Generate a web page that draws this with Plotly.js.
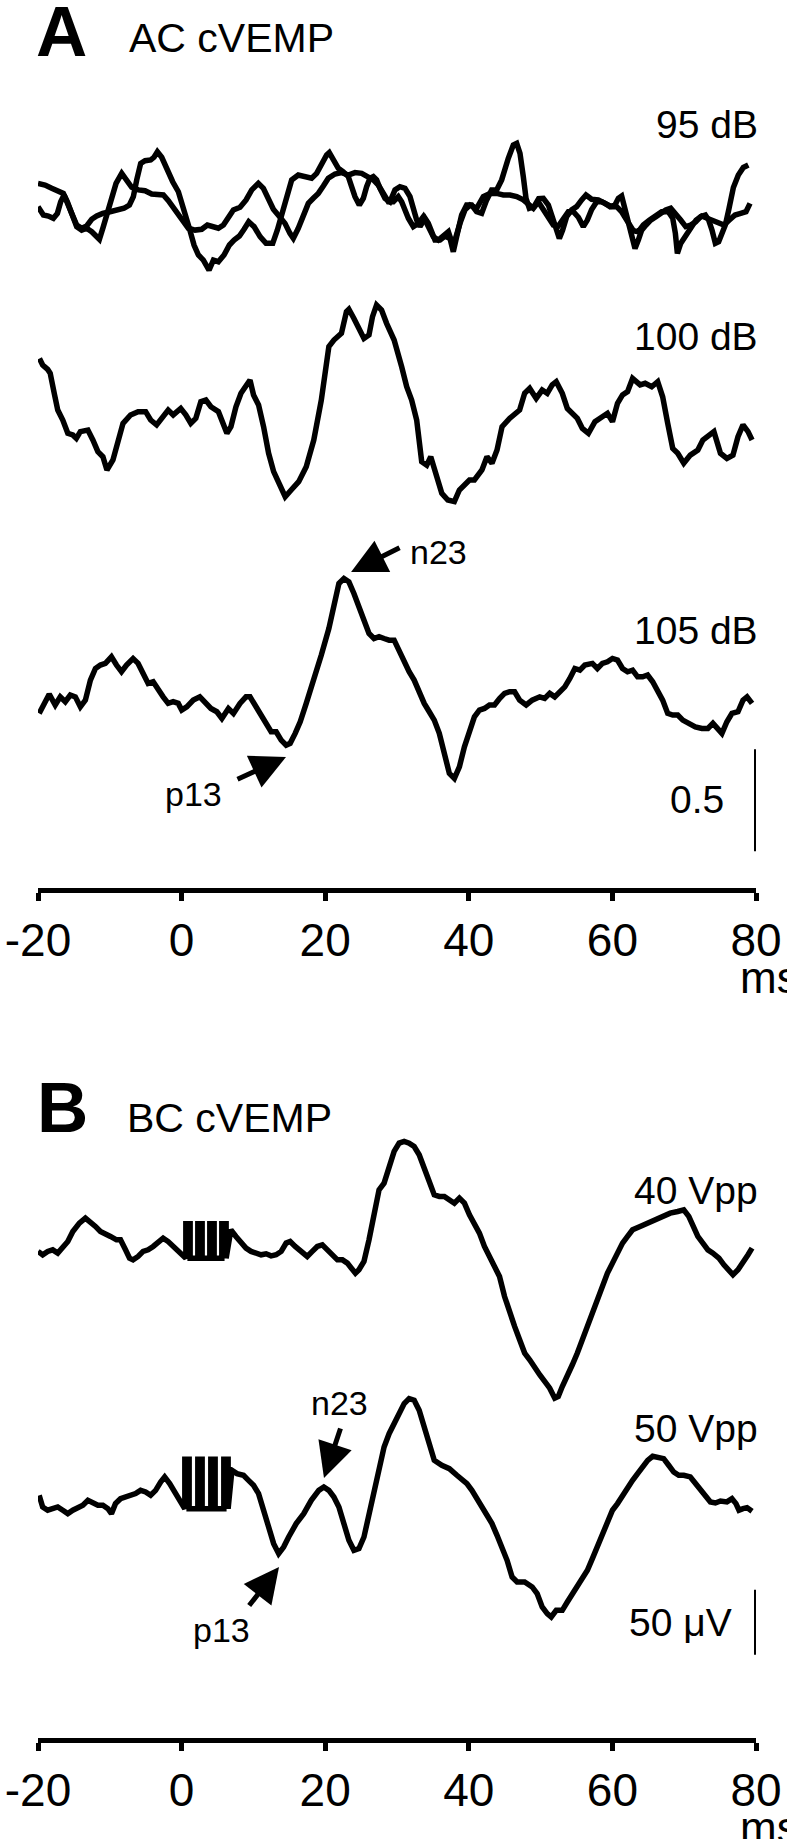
<!DOCTYPE html>
<html><head><meta charset="utf-8">
<script src="https://cdn.plot.ly/plotly-3.0.1.min.js"></script>
<style>html,body{margin:0;padding:0;background:#fff}#chart{width:787px;height:1839px}</style>
</head><body><div id="chart"></div>
<script>
// ---------- Panel A: AC cVEMP (normalised amplitude, scale bar 0.5) ----------
const xTicks = [-20, 0, 20, 40, 60, 80];
const xTickText = ['-20', '0', '20', '40', '60', '80'];

const ac95aMs = [-20.0,-19.25,-18.56,-17.86,-17.30,-16.84,-16.37,-15.91,-15.31,-14.61,-13.91,-13.22,-12.52,-11.82,-10.99,-9.97,-8.95,-8.02,-7.27,-6.72,-6.25,-5.70,-5.09,-4.30,-3.84,-3.37,-2.77,-2.07,-1.24,-0.45,0.02,0.48,1.08,1.73,2.34,3.03,3.82,4.43,5.12,5.91,6.66,7.31,8.05,8.70,9.35,10.09,10.93,11.76,12.69,13.34,13.94,14.64,15.33,16.25,17.18,18.11,18.81,19.50,20.20,20.57,21.13,21.83,22.52,23.22,23.68,24.15,24.75,25.31,25.77,26.24,26.70,27.16,27.63,28.33,29.02,29.72,30.41,31.11,31.81,32.27,32.74,33.20,33.90,34.36,34.83,35.29,35.99,36.68,37.38,37.84,38.31,39.00,39.70,40.40,41.09,41.79,42.49,43.18,43.88,44.58,45.50,46.20,46.67,47.13,47.59,47.97,48.43,49.08,49.73,50.38,51.08,51.77,52.24,52.61,53.07,53.63,54.33,55.02,55.72,56.32,57.11,58.04,58.97,59.67,60.36,60.83,61.29,61.76,62.22,62.68,63.15,63.61,64.08,64.68,65.33,66.07,66.72,67.42,68.12,68.81,69.51,70.21,70.90,71.60,72.30,72.95,73.41,73.87,74.34,74.80,75.27,75.73,76.20,76.85,77.54,78.24,78.93];
const ac95aAmp = [-0.010,-0.051,-0.056,-0.067,-0.043,0.014,0.047,0.014,-0.043,-0.100,-0.116,-0.105,-0.072,-0.056,-0.043,-0.035,-0.023,-0.018,-0.002,0.039,0.121,0.202,0.215,0.219,0.232,0.259,0.232,0.173,0.112,0.063,0.014,-0.043,-0.116,-0.198,-0.247,-0.272,-0.321,-0.272,-0.280,-0.247,-0.198,-0.174,-0.154,-0.121,-0.084,-0.108,-0.157,-0.190,-0.190,-0.124,-0.051,0.014,0.121,0.145,0.140,0.129,0.153,0.202,0.243,0.255,0.219,0.178,0.161,0.137,0.088,0.039,-0.002,0.031,0.088,0.129,0.137,0.121,0.080,0.031,0.014,0.072,0.088,0.080,0.039,-0.026,-0.076,-0.108,-0.067,-0.092,-0.141,-0.174,-0.174,-0.154,-0.166,-0.231,-0.157,-0.051,-0.002,-0.002,-0.035,-0.043,0.023,0.072,0.072,0.121,0.227,0.292,0.300,0.251,0.137,0.031,-0.018,-0.010,0.029,0.031,-0.002,-0.076,-0.141,-0.166,-0.125,-0.059,-0.026,-0.010,0.023,0.047,0.026,0.023,0.006,-0.010,-0.002,0.031,0.042,-0.023,-0.076,-0.157,-0.215,-0.174,-0.125,-0.100,-0.076,-0.059,-0.040,-0.026,-0.018,-0.043,-0.076,-0.108,-0.100,-0.084,-0.059,-0.051,-0.076,-0.125,-0.190,-0.182,-0.141,-0.100,-0.026,0.084,0.145,0.182,0.194];

const ac95bMs = [-20.0,-19.02,-18.09,-17.16,-16.47,-15.91,-15.31,-14.61,-13.91,-13.22,-12.52,-11.82,-11.45,-10.90,-10.34,-9.73,-9.13,-8.34,-7.65,-6.95,-6.02,-5.09,-4.16,-3.23,-2.54,-1.84,-0.91,0.02,0.94,1.87,2.80,3.59,4.33,5.12,5.82,6.52,7.21,8.14,8.98,9.77,10.69,11.39,12.09,12.78,13.71,14.40,15.09,15.56,16.25,16.95,17.65,18.34,19.04,19.74,20.43,21.36,22.29,23.22,24.15,25.08,26.00,26.70,27.40,28.09,28.79,29.49,30.18,30.65,31.11,31.58,32.27,32.97,33.67,34.36,35.06,35.75,36.45,37.15,37.61,38.08,38.77,39.47,40.17,41.09,42.02,42.95,43.88,44.81,45.74,46.67,47.59,48.29,48.99,49.68,50.84,51.77,52.47,53.17,53.86,54.56,55.26,55.95,56.51,57.11,57.81,58.51,59.20,59.90,60.60,61.29,61.99,62.92,63.61,64.31,65.14,65.93,66.86,67.79,68.40,68.77,69.05,69.51,70.21,70.90,71.65,72.43,73.22,74.06,74.99,75.55,76.29,77.08,77.87,78.61,79.17];
const ac95bAmp = [0.104,0.096,0.080,0.063,0.055,0.014,-0.051,-0.108,-0.125,-0.116,-0.133,-0.157,-0.170,-0.108,-0.043,0.031,0.104,0.153,0.121,0.085,0.072,0.068,0.052,0.052,0.047,0.019,-0.026,-0.079,-0.116,-0.125,-0.121,-0.100,-0.108,-0.116,-0.100,-0.062,-0.026,-0.013,0.023,0.072,0.104,0.080,0.023,-0.023,-0.062,-0.092,-0.141,-0.165,-0.116,-0.051,0.006,0.031,0.055,0.091,0.129,0.150,0.157,0.145,0.157,0.153,0.137,0.121,0.096,0.055,0.014,0.014,0.039,0.014,-0.026,-0.067,-0.108,-0.092,-0.059,-0.108,-0.157,-0.174,-0.157,-0.133,-0.182,-0.174,-0.092,-0.026,-0.002,-0.018,0.039,0.055,0.055,0.047,0.047,0.039,0.023,-0.002,-0.018,0.014,-0.046,-0.100,-0.105,-0.067,-0.035,-0.035,-0.062,-0.108,-0.076,-0.024,0.014,0.014,0.003,-0.010,-0.010,-0.035,-0.076,-0.128,-0.133,-0.100,-0.076,-0.056,-0.035,-0.035,-0.067,-0.141,-0.239,-0.190,-0.154,-0.108,-0.076,-0.056,-0.067,-0.079,-0.092,-0.100,-0.076,-0.051,-0.043,-0.035,0.006];

const ac100Ms = [-19.8,-19.35,-18.65,-18.30,-17.74,-17.25,-16.55,-15.85,-15.15,-14.66,-14.10,-13.05,-12.36,-11.66,-10.96,-10.40,-9.56,-8.86,-8.16,-7.11,-6.06,-5.01,-4.31,-3.48,-2.57,-1.87,-1.17,-0.12,0.58,1.28,1.98,2.68,3.38,4.08,5.13,5.82,6.31,6.87,7.57,8.27,8.97,9.53,10.02,10.72,11.42,12.12,12.82,13.52,14.43,15.26,16.31,17.36,18.41,19.46,20.16,20.51,21.21,22.26,22.96,23.30,24.00,24.70,25.40,26.10,26.59,27.15,27.85,28.55,29.60,30.65,31.35,32.04,32.74,33.44,34.14,34.70,35.40,36.24,37.08,37.99,38.69,39.39,40.09,40.78,41.83,42.53,43.23,43.93,44.63,45.68,46.38,47.08,47.78,48.48,49.39,50.22,50.92,51.62,52.18,53.02,53.72,54.42,55.12,55.82,56.66,57.57,58.61,59.31,60.01,60.71,61.41,62.11,62.81,63.86,64.56,65.47,66.31,67.00,67.70,68.40,69.10,69.94,70.85,71.90,72.60,73.30,74.14,75.05,75.95,76.79,77.49,78.19,78.89,79.45];
const ac100Amp = [0.266,0.234,0.212,0.193,0.095,0.013,-0.036,-0.101,-0.109,-0.126,-0.093,-0.085,-0.134,-0.191,-0.216,-0.281,-0.232,-0.150,-0.052,-0.011,0.005,0.005,-0.036,-0.060,-0.020,0.013,-0.011,0.021,-0.011,-0.052,-0.028,0.054,0.062,0.029,0.005,-0.069,-0.101,-0.069,0.029,0.095,0.131,0.160,0.087,0.038,-0.069,-0.199,-0.289,-0.346,-0.412,-0.379,-0.338,-0.265,-0.134,0.062,0.225,0.324,0.356,0.389,0.495,0.507,0.462,0.405,0.364,0.381,0.471,0.528,0.503,0.438,0.356,0.225,0.127,0.062,-0.036,-0.240,-0.257,-0.216,-0.297,-0.395,-0.428,-0.436,-0.379,-0.355,-0.330,-0.330,-0.281,-0.216,-0.248,-0.183,-0.069,-0.028,-0.003,0.013,0.095,0.119,0.070,0.111,0.095,0.136,0.152,0.095,0.021,-0.003,-0.028,-0.077,-0.101,-0.044,-0.020,-0.003,-0.044,0.046,0.087,0.103,0.168,0.136,0.144,0.127,0.152,0.078,-0.052,-0.175,-0.199,-0.248,-0.208,-0.183,-0.134,-0.118,-0.093,-0.199,-0.224,-0.208,-0.118,-0.060,-0.093,-0.134];

const ac105Ms = [-19.84,-19.14,-18.44,-17.60,-16.90,-16.20,-15.50,-14.80,-14.10,-13.40,-12.70,-12.00,-11.31,-10.61,-9.77,-9.07,-8.37,-7.67,-6.76,-6.06,-5.36,-4.66,-3.96,-3.27,-2.57,-1.87,-1.17,-0.47,0.02,0.72,1.63,2.54,3.38,4.08,4.91,5.61,6.52,7.22,8.13,8.97,9.53,10.23,11.07,11.77,12.47,13.17,13.87,14.56,15.12,15.82,16.52,17.36,18.41,19.46,20.51,21.21,21.91,22.61,23.30,24.00,24.70,25.40,26.10,26.80,27.50,28.20,28.90,29.60,30.30,31.00,31.69,32.39,33.09,33.79,34.49,35.19,35.89,36.59,37.29,37.99,38.69,39.39,40.09,40.78,41.48,42.18,42.88,43.58,44.28,44.98,45.68,46.38,47.08,47.99,48.83,49.87,50.57,51.27,51.97,52.67,53.37,54.07,54.77,55.47,56.16,57.21,57.91,58.61,59.31,60.01,60.71,61.41,62.11,62.81,63.51,64.21,64.91,65.61,66.31,67.00,67.70,68.40,69.10,69.80,70.64,71.55,72.46,73.30,74.00,74.70,75.25,75.95,76.65,77.49,78.19,78.75,79.45];
const ac105Amp = [-0.034,0.015,0.060,0.007,0.047,0.023,0.056,0.047,-0.002,0.031,0.129,0.186,0.203,0.211,0.243,0.203,0.170,0.203,0.235,0.211,0.154,0.113,0.121,0.080,0.047,0.015,0.023,0.015,-0.018,-0.002,0.031,0.047,0.015,-0.010,-0.026,-0.059,-0.010,-0.034,0.015,0.047,0.047,0.007,-0.034,-0.075,-0.124,-0.124,-0.165,-0.190,-0.181,-0.132,-0.075,0.015,0.129,0.252,0.382,0.497,0.603,0.627,0.611,0.554,0.489,0.423,0.358,0.333,0.342,0.333,0.325,0.325,0.268,0.219,0.170,0.129,0.064,0.015,-0.026,-0.067,-0.132,-0.230,-0.328,-0.353,-0.296,-0.198,-0.132,-0.051,-0.018,-0.010,0.007,0.007,0.039,0.064,0.072,0.072,0.031,0.007,0.031,0.047,0.039,0.064,0.047,0.072,0.096,0.137,0.186,0.178,0.203,0.211,0.186,0.211,0.219,0.235,0.227,0.186,0.170,0.178,0.145,0.145,0.154,0.121,0.080,0.031,-0.034,-0.042,-0.042,-0.067,-0.083,-0.100,-0.108,-0.108,-0.083,-0.116,-0.132,-0.075,-0.034,-0.026,0.031,0.047,0.015];

// ---------- Panel B: BC cVEMP (µV, scale bar 50 µV) ----------
const bc40PreMs  = [-20.0,-19.35,-18.65,-17.95,-17.25,-16.55,-15.85,-15.15,-14.24,-13.40,-12.70,-12.00,-11.31,-10.61,-9.91,-9.07,-8.51,-7.81,-7.25,-6.76,-6.06,-5.36,-4.66,-3.96,-3.27,-2.57,-1.87,-1.17,-0.47];
const bc40PreAmp = [0.3,-2.3,0.3,1.5,-1.0,2.8,7.9,15.6,22.1,25.9,23.3,19.5,15.6,13.1,11.8,9.2,9.2,1.5,-4.9,-6.2,-3.6,0.3,1.5,4.1,7.9,10.5,7.9,4.1,0.3];
const bc40ArtMs  = [0.59,0.59,1.19,1.19,2.26,2.26,2.86,2.86,3.93,3.93,4.53,4.53,5.60,5.60,6.20,6.20];
const bc40ArtAmp = [-5.0,21.5,21.5,-5.0,-5.0,21.5,21.5,-5.0,-5.0,21.5,21.5,-5.0,-5.0,21.5,21.5,-5.0];
const bc40PostMs = [6.87,7.57,8.27,8.97,9.67,10.37,11.07,11.77,12.47,13.17,13.87,14.56,15.12,15.82,16.66,17.50,18.20,18.90,19.60,20.30,21.00,21.70,22.40,23.09,23.65,24.21,24.70,25.40,26.10,26.80,27.50,28.20,28.90,29.60,30.30,31.00,31.69,32.39,33.09,33.79,34.49,35.19,35.89,36.59,37.29,37.99,38.69,39.39,40.09,40.78,41.48,42.18,42.88,43.58,44.28,44.98,45.68,46.38,47.08,47.78,48.48,49.17,49.87,50.57,51.27,51.97,52.46,53.02,53.72,54.42,55.12,55.82,56.52,57.21,57.91,58.61,59.31,60.01,60.71,61.41,62.11,62.81,63.86,64.91,65.95,67.00,68.05,69.10,69.94,70.64,71.20,71.90,72.60,73.30,74.00,74.84,75.53,76.23,76.79,77.49,78.19,78.89,79.45];
const bc40PostAmp = [16.9,11.8,6.7,2.8,0.3,-1.5,-2.3,-1.5,-3.1,-2.3,0.3,6.7,7.9,4.1,0.3,-3.6,0.3,4.1,5.4,1.5,-3.6,-6.2,-6.2,-8.7,-12.6,-16.4,-13.8,-7.4,9.2,29.7,47.7,52.8,65.6,77.2,83.6,84.9,83.6,81.0,74.6,65.6,54.1,43.8,42.6,42.6,40.0,37.4,41.3,37.4,28.5,22.1,14.4,4.1,-3.6,-11.3,-19.0,-34.4,-47.2,-57.4,-67.7,-77.9,-83.1,-89.5,-94.6,-99.7,-104.9,-112.6,-111.3,-103.6,-95.9,-86.9,-77.9,-67.7,-57.4,-47.2,-36.9,-25.4,-16.4,-8.7,-1.0,6.7,11.8,16.9,19.5,22.1,24.6,27.2,29.7,31.0,32.3,27.2,19.5,11.8,6.7,1.5,-1.0,-4.9,-10.0,-15.1,-17.7,-13.8,-8.7,-2.3,2.8];

const bc50PreMs  = [-19.84,-19.35,-18.65,-17.95,-17.25,-16.55,-15.85,-15.15,-14.45,-13.75,-13.05,-12.36,-11.66,-10.96,-10.26,-9.77,-9.21,-8.51,-7.81,-7.11,-6.41,-5.71,-5.01,-4.31,-3.62,-2.92,-2.36,-1.66,-0.96,-0.26];
const bc50PreAmp = [7.7,-1.3,-3.8,-2.6,-1.3,-3.8,-6.4,-3.8,-1.3,0.0,3.8,1.3,0.0,0.0,-2.6,-6.4,1.3,5.1,6.4,7.7,9.0,11.5,10.3,7.7,11.5,17.9,21.8,16.7,10.3,5.1];
const bc50ArtMs  = [0.45,0.45,1.05,1.05,2.26,2.26,2.86,2.86,4.07,4.07,4.67,4.67,5.88,5.88,6.48,6.48];
const bc50ArtAmp = [-2.7,35.5,35.5,-2.7,-2.7,35.5,35.5,-2.7,-2.7,35.5,35.5,-2.7,-2.7,35.5,35.5,-2.7];
const bc50PostMs = [7.01,7.71,8.62,9.32,10.02,10.72,11.42,12.12,12.82,13.52,14.21,14.91,15.96,17.01,18.06,19.11,19.81,20.51,21.21,21.91,22.61,23.30,24.00,24.70,25.40,26.10,26.80,27.50,28.20,28.90,29.60,30.30,31.00,31.69,32.39,33.09,33.79,34.49,35.19,36.24,37.29,38.34,39.04,39.74,40.43,41.13,41.83,42.53,43.23,43.93,44.63,45.33,46.03,46.73,47.78,48.83,49.52,50.22,50.92,51.48,52.18,53.02,53.72,54.42,55.12,55.82,56.52,57.21,57.91,58.61,59.31,60.01,60.71,61.41,62.11,62.81,63.51,64.21,64.91,65.61,66.31,67.14,67.84,68.54,69.24,69.94,70.85,71.55,72.25,72.95,73.65,74.35,75.05,75.95,76.65,77.21,77.63,78.19,78.75,79.45];
const bc50PostAmp = [26.9,24.4,23.1,19.2,15.4,9.0,-3.8,-16.7,-29.5,-37.2,-32.1,-24.4,-14.1,-6.4,3.8,11.5,14.1,11.5,6.4,-1.3,-14.1,-26.9,-34.6,-33.3,-24.4,-6.4,11.5,29.5,44.9,55.1,62.8,70.5,78.2,82.1,80.8,73.1,60.3,44.9,34.6,30.8,28.2,23.1,20.5,16.7,11.5,5.1,0.0,-7.7,-14.1,-23.1,-32.1,-42.3,-55.1,-59.0,-59.0,-62.8,-67.9,-78.2,-83.3,-85.9,-80.8,-80.8,-74.4,-67.9,-61.5,-56.4,-50.0,-41.0,-32.1,-21.8,-12.8,-3.8,1.3,7.7,14.1,19.2,24.4,29.5,34.6,37.7,37.2,35.9,30.8,25.6,23.1,23.1,21.8,16.7,11.5,6.4,2.6,1.8,3.3,2.6,5.1,1.3,-3.8,-2.6,-1.8,-4.6];

// stacking offsets (vertical placement of each trace, in axis units)
const offA = {db95: 3.35, db100: 2.33, db105: 0.89};
const offB = {v40: 374, v50: 179};
const scaleA = {base: 0.18, size: 0.5};
const scaleB = {base: 64, size: 50};

// ---------- build ----------
const FONT = 'Liberation Sans, Arial, Helvetica, sans-serif';
const LW = 5.5;
function tr(xs, ys, off, xa, ya) {
  return {x: xs, y: ys.map(v => v + off), xaxis: xa, yaxis: ya, type: 'scatter', mode: 'lines',
          line: {color: '#000', width: LW}, hoverinfo: 'skip'};
}
const data = [
  tr(ac95bMs, ac95bAmp, offA.db95, 'x', 'y'),
  tr(ac95aMs, ac95aAmp, offA.db95, 'x', 'y'),
  tr(ac100Ms, ac100Amp, offA.db100, 'x', 'y'),
  tr(ac105Ms, ac105Amp, offA.db105, 'x', 'y'),
  tr(bc40PreMs.concat(bc40ArtMs, bc40PostMs), bc40PreAmp.concat(bc40ArtAmp, bc40PostAmp), offB.v40, 'x2', 'y2'),
  tr(bc50PreMs.concat(bc50ArtMs, bc50PostMs), bc50PreAmp.concat(bc50ArtAmp, bc50PostAmp), offB.v50, 'x2', 'y2')
];

const W = 787, H = 1839;
const px = fx => fx / W, py = fy => 1 - fy / H;
function lab(text, fx, fy, size, xanchor, bold) {
  return {xref: 'paper', yref: 'paper', x: px(fx), y: py(fy), text: bold ? '<b>' + text + '</b>' : text,
          showarrow: false, xanchor: xanchor, yanchor: 'middle',
          font: {family: FONT, size: size, color: '#000'}};
}
function arrow(xa, ya, x, y, ax, ay) {
  return {xref: xa, yref: ya, x: x, y: y, ax: ax, ay: ay, text: '', showarrow: true,
          arrowhead: 2, arrowsize: 1.4, arrowwidth: 5, arrowcolor: '#000', standoff: 0, startstandoff: 0};
}
const axisX = {
  domain: [38 / W, 756 / W], range: [-20, 80], showline: true, linewidth: 5, linecolor: '#000',
  ticks: 'outside', ticklen: 8, tickwidth: 5, tickcolor: '#000', tickvals: xTicks, ticktext: xTickText,
  tickfont: {family: FONT, size: 46, color: '#000'}, showgrid: false, zeroline: false, fixedrange: true
};
const layout = {
  width: W, height: H, margin: {l: 0, r: 0, t: 0, b: 0}, showlegend: false,
  paper_bgcolor: '#fff', plot_bgcolor: 'rgba(0,0,0,0)',
  xaxis: Object.assign({}, axisX, {anchor: 'y'}),
  yaxis: {domain: [py(888), py(60)], range: [0, 828 / 204], visible: false, fixedrange: true},
  xaxis2: Object.assign({}, axisX, {anchor: 'y2'}),
  yaxis2: {domain: [py(1738), py(1060)], range: [0, 678 / 1.3], visible: false, fixedrange: true},
  shapes: [
    {type: 'line', xref: 'x', yref: 'y', x0: 80, x1: 80, y0: scaleA.base, y1: scaleA.base + scaleA.size, line: {color: '#000', width: 4}},
    {type: 'line', xref: 'x2', yref: 'y2', x0: 80, x1: 80, y0: scaleB.base, y1: scaleB.base + scaleB.size, line: {color: '#000', width: 4}}
  ],
  annotations: [
    lab('A', 34, 32, 71, 'left', true),
    lab('AC cVEMP', 127, 38, 41, 'left'),
    lab('95 dB', 760, 124, 39, 'right'),
    lab('100 dB', 760, 336, 39, 'right'),
    lab('105 dB', 760, 630, 39, 'right'),
    lab('n23', 408, 552, 34, 'left'),
    lab('p13', 224, 794, 34, 'right'),
    lab('0.5', 726, 799, 39, 'right'),
    lab('ms', 738, 977, 44, 'left'),
    arrow('x', 'y', 23.6, offA.db105 + 0.659, 50, -25),
    arrow('x', 'y', 14.54, offA.db105 - 0.248, -50, 23),
    lab('B', 35, 1107, 71, 'left', true),
    lab('BC cVEMP', 125, 1118, 41, 'left'),
    lab('40 Vpp', 760, 1190, 39, 'right'),
    lab('50 Vpp', 760, 1428, 39, 'right'),
    lab('n23', 339, 1403, 34, 'center'),
    lab('p13', 222, 1630, 34, 'center'),
    lab('50 \u03bcV', 734, 1622, 39, 'right'),
    lab('ms', 738, 1827, 44, 'left'),
    arrow('x2', 'y2', 19.83, 200, 17, -51),
    arrow('x2', 'y2', 13.57, 131.5, -31, 40)
  ]
};
Plotly.newPlot('chart', data, layout, {staticPlot: true, displayModeBar: false});
</script>
</body></html>
